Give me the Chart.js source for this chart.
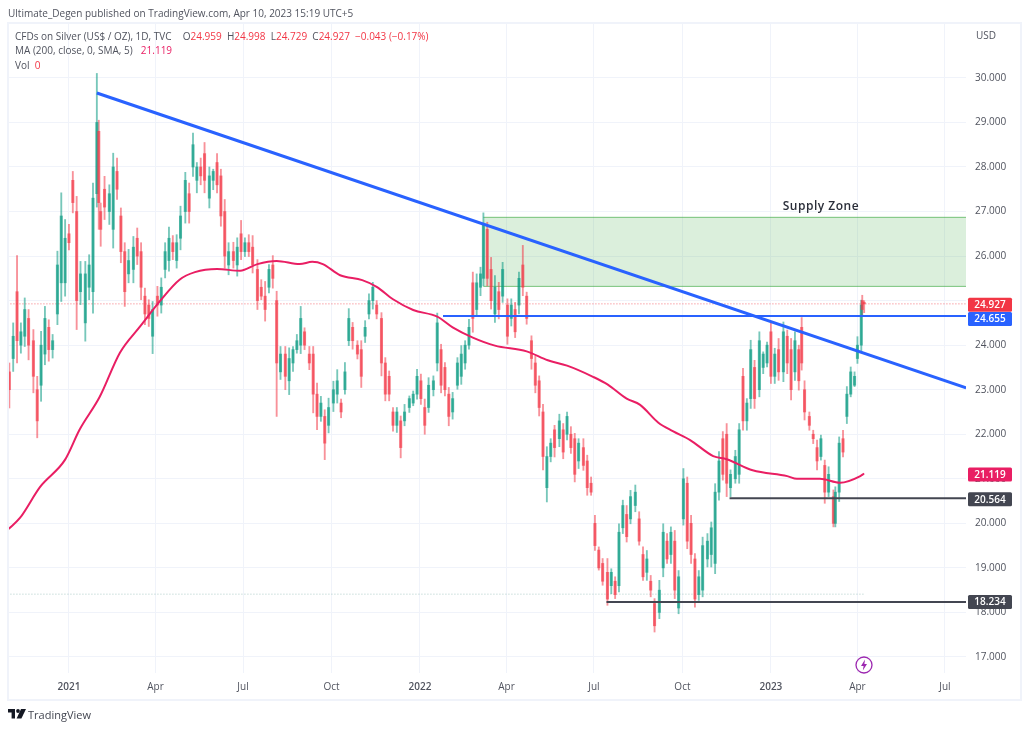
<!DOCTYPE html>
<html>
<head>
<meta charset="utf-8">
<title>CFDs on Silver</title>
<script src="https://cdn.jsdelivr.net/npm/chart.js@4"></script>
<style>
  html, body { margin: 0; padding: 0; background: #ffffff; }
  body { width: 1024px; height: 730px; position: relative; overflow: hidden; font-family: "Open Sans", Roboto, sans-serif; color: #50535e; }
  #chart { position: absolute; left: 0; top: 0; }
  #frame { position: absolute; left: 7px; top: 22px; width: 1011px; height: 675px; border: 2px solid #f0f3fa; pointer-events: none; }
  .text { position: absolute; font-size: 10px; white-space: nowrap; line-height: 14px; }
  .down { color: #f23645; }
  .ma { color: #e91e63; margin-left: 3px; }
  .open { margin-left: 6px; }
  #usd { left: 976px; top: 28px; color: #50535e; }
  #bolt { position: absolute; left: 855px; top: 656px; }
  #logo { position: absolute; left: 8px; top: 709px; }
  #brand { left: 28px; top: 708px; font-size: 11px; color: #434651; }
</style>
</head>
<body>
<canvas id="chart" width="1024" height="730"></canvas>
<div id="frame"></div>
<div class="text" style="left:8px;top:6px;">Ultimate_Degen published on TradingView.com, Apr 10, 2023 15:19 UTC+5</div>
<div class="text" style="left:15px;top:29px;">CFDs on Silver (US$ / OZ), 1D, TVC&nbsp;&nbsp;<span class="open">O</span><span class="down">24.959</span>&nbsp;&nbsp;H<span class="down">24.998</span>&nbsp;&nbsp;L<span class="down">24.729</span>&nbsp;&nbsp;C<span class="down">24.927</span>&nbsp;&nbsp;<span class="down">−0.043 (−0.17%)</span></div>
<div class="text" style="left:15px;top:43px;">MA (200, close, 0, SMA, 5)&nbsp;&nbsp;<span class="ma">21.119</span></div>
<div class="text" style="left:15px;top:58px;">Vol&nbsp;&nbsp;<span class="down">0</span></div>
<div class="text" id="usd">USD</div>
<svg id="bolt" width="18" height="18" viewBox="0 0 18 18">
  <circle cx="9" cy="9" r="8" fill="#ffffff" stroke="#9c27b0" stroke-width="1.3"></circle>
  <path d="M10 3.5 L6 10 L8.6 10 L7.8 14.5 L12 8 L9.4 8 Z" fill="#9c27b0"></path>
</svg>
<svg id="logo" width="18" height="11" viewBox="0 0 18 11">
  <path d="M0 0 H7 V9.5 H3.6 V3.4 H0 Z" fill="#131722"></path>
  <circle cx="10" cy="2" r="1.9" fill="#131722"></circle>
  <path d="M13 0 H18 L13.4 9.5 H8.6 Z" fill="#131722"></path>
</svg>
<div class="text" id="brand">TradingView</div>
<script>
// Days counted from 2021-01-01, one entry per drawn candle.
var candleDays = [
  -62, -58, -54, -50, -46, -42, -37, -33, -29, -25,
  -21, -17, -12, -8, -4, 0, 4, 8, 12, 17,
  21, 25, 29, 31, 33, 37, 42, 46, 50, 54,
  58, 62, 67, 71, 75, 79, 83, 87, 92, 96,
  100, 104, 108, 112, 116, 121, 125, 129, 133, 137,
  141, 146, 150, 154, 158, 162, 166, 171, 175, 179,
  183, 187, 191, 196, 200, 204, 208, 212, 216, 220,
  225, 229, 233, 237, 241, 245, 250, 254, 258, 262,
  266, 270, 275, 279, 283, 287, 291, 295, 300, 304,
  308, 312, 316, 320, 325, 329, 333, 337, 341, 345,
  349, 354, 358, 362, 366, 370, 374, 379, 383, 387,
  391, 395, 399, 404, 408, 412, 416, 420, 424, 428,
  431, 435, 439, 443, 447, 451, 456, 460, 464, 468,
  472, 476, 481, 485, 489, 493, 497, 501, 505, 510,
  514, 518, 522, 526, 530, 535, 539, 543, 547, 551,
  555, 560, 564, 568, 572, 576, 580, 584, 589, 593,
  597, 601, 605, 609, 614, 618, 622, 626, 630, 634,
  639, 643, 647, 651, 655, 659, 664, 668, 672, 676,
  680, 684, 688, 693, 697, 701, 705, 709, 713, 718,
  722, 726, 730, 734, 738, 743, 747, 751, 755, 759,
  762, 765, 770, 774, 778, 782, 786, 790, 795, 797,
  801, 805, 809, 813, 817, 820, 824, 825, 827
];

var highs = [
  23.60, 24.50, 26.01, 24.50, 25.06, 24.80, 24.35, 23.30, 24.31, 24.87,
  24.57, 24.24, 26.11, 27.42, 26.82, 26.71, 27.90, 27.34, 25.88, 25.88,
  26.03, 27.64, 30.10, 29.05, 27.19, 27.79, 27.60, 28.31, 28.20, 27.08,
  26.30, 26.15, 26.44, 26.63, 26.30, 25.28, 25.02, 24.98, 25.32, 25.51,
  26.30, 26.65, 26.46, 26.48, 27.12, 27.88, 27.64, 28.76, 28.10, 28.20,
  28.55, 28.00, 27.95, 28.30, 27.95, 27.27, 26.30, 26.31, 26.41, 26.80,
  26.41, 26.48, 26.46, 25.92, 25.47, 25.43, 25.81, 26.01, 25.21, 23.97,
  23.97, 23.94, 23.97, 24.24, 24.87, 24.39, 23.97, 23.97, 23.15, 22.85,
  22.55, 22.81, 23.19, 23.45, 22.79, 23.61, 24.82, 24.51, 24.10, 24.10,
  24.55, 25.15, 25.41, 25.00, 24.73, 23.72, 23.42, 22.60, 22.60, 22.41,
  22.67, 22.86, 22.97, 23.46, 23.35, 22.79, 23.27, 23.31, 24.72, 24.02,
  23.61, 23.05, 22.94, 23.72, 23.99, 24.10, 24.58, 25.64, 25.60, 25.75,
  26.97, 26.76, 25.97, 25.56, 25.41, 25.86, 25.04, 25.04, 24.96, 25.64,
  26.24, 25.19, 24.21, 23.76, 23.31, 22.67, 21.72, 21.90, 22.20, 22.45,
  22.24, 22.50, 22.17, 22.02, 21.90, 21.90, 21.53, 21.04, 20.18, 19.47,
  19.21, 19.21, 18.98, 18.80, 19.99, 20.52, 20.40, 20.74, 20.86, 20.26,
  19.47, 19.39, 18.83, 18.31, 18.72, 19.99, 19.77, 19.92, 19.84, 18.94,
  21.23, 21.04, 20.18, 19.32, 18.94, 19.69, 19.77, 20.03, 20.89, 21.61,
  22.06, 22.24, 21.20, 21.64, 22.24, 23.48, 22.80, 24.11, 23.66, 24.30,
  23.85, 24.07, 24.49, 23.93, 24.15, 24.52, 24.34, 24.15, 24.30, 24.00,
  24.62, 23.20, 22.50, 22.09, 21.87, 21.98, 21.42, 21.27, 20.75, 20.82,
  21.94, 22.09, 23.07, 23.51, 23.40, 24.19, 25.01, 25.12, 24.998
];

var lows = [
  22.59, 23.41, 23.60, 23.82, 23.97, 23.67, 22.93, 21.92, 22.74, 23.56,
  23.64, 23.71, 24.46, 24.98, 25.10, 26.14, 26.97, 24.35, 24.91, 24.09,
  25.02, 24.72, 27.10, 26.60, 26.22, 26.82, 26.71, 26.18, 27.27, 25.85,
  24.87, 25.40, 25.40, 25.81, 25.02, 24.46, 24.42, 23.81, 24.65, 24.72,
  25.51, 25.66, 25.92, 25.73, 26.14, 26.74, 26.74, 27.79, 27.42, 27.60,
  27.42, 27.08, 27.49, 27.42, 26.67, 25.73, 25.58, 25.73, 25.55, 25.92,
  25.99, 25.99, 25.62, 24.80, 25.02, 24.54, 25.17, 25.28, 22.40, 23.23,
  23.00, 22.89, 23.41, 23.82, 23.81, 23.90, 23.45, 22.48, 22.10, 22.29,
  21.43, 22.03, 22.51, 22.70, 22.37, 22.90, 23.99, 23.91, 23.69, 23.05,
  24.06, 24.59, 24.81, 24.59, 23.31, 22.75, 22.75, 22.07, 22.04, 21.47,
  22.19, 22.49, 22.64, 22.79, 22.67, 22.00, 22.49, 22.86, 23.42, 22.93,
  22.86, 22.19, 22.34, 23.01, 23.12, 23.46, 23.91, 24.29, 24.66, 25.11,
  25.33, 25.33, 24.81, 24.51, 24.59, 24.96, 24.02, 24.43, 24.17, 24.70,
  25.11, 24.47, 23.46, 22.93, 22.41, 21.20, 20.48, 21.38, 21.49, 21.72,
  21.45, 21.87, 21.57, 20.93, 21.23, 21.19, 20.63, 20.63, 19.39, 18.95,
  18.61, 18.16, 18.42, 18.31, 18.46, 19.77, 19.58, 19.99, 20.26, 19.51,
  18.72, 18.72, 18.35, 17.56, 17.86, 18.80, 19.10, 19.10, 18.31, 17.97,
  19.96, 19.43, 19.10, 18.12, 18.27, 18.35, 19.02, 19.02, 18.87, 20.52,
  20.97, 20.60, 20.60, 20.90, 20.90, 22.09, 22.09, 22.58, 22.58, 22.84,
  23.36, 23.51, 23.14, 23.14, 23.21, 23.18, 23.36, 22.77, 23.21, 22.99,
  23.44, 22.32, 22.09, 21.79, 21.20, 21.42, 20.45, 20.60, 19.92, 19.92,
  20.49, 21.49, 22.24, 22.84, 23.07, 23.59, 23.85, 24.67, 24.729
];

var opens = [
  23.4, 23.7, 25.2, 24.0, 24.2, 24.6, 24.1, 23.0, 23.1, 23.8,
  24.4, 23.9, 24.7, 25.4, 25.4, 26.5, 27.7, 27.0, 25.2, 24.5,
  25.3, 25.2, 27.4, 28.8, 27.0, 27.5, 27.0, 26.6, 27.9, 26.9,
  26.1, 25.6, 25.7, 26.4, 26.1, 25.1, 24.9, 24.2, 25.1, 24.9,
  25.7, 25.9, 26.3, 25.9, 26.4, 27.0, 27.4, 28.0, 27.7, 28.0,
  28.3, 27.3, 27.7, 28.1, 27.8, 27.0, 25.8, 26.1, 25.8, 26.5,
  26.1, 26.3, 26.2, 25.7, 25.3, 25.1, 25.3, 25.8, 25.0, 23.4,
  23.8, 23.2, 23.6, 23.9, 24.0, 24.3, 23.8, 23.8, 22.9, 22.4,
  22.4, 22.2, 22.7, 22.9, 22.7, 23.0, 24.1, 24.4, 24.0, 23.9,
  24.2, 24.7, 25.0, 24.9, 24.6, 23.6, 23.3, 22.5, 22.2, 22.3,
  22.3, 22.6, 22.7, 22.9, 23.2, 22.6, 22.6, 23.0, 23.6, 23.9,
  23.5, 22.9, 22.5, 23.1, 23.3, 23.6, 24.0, 25.4, 24.8, 25.3,
  25.5, 26.6, 25.7, 24.7, 25.2, 25.1, 24.9, 24.6, 24.8, 24.9,
  25.8, 25.1, 24.1, 23.6, 23.2, 22.5, 20.8, 21.5, 22.1, 21.9,
  22.1, 22.0, 22.0, 21.9, 21.4, 21.7, 21.4, 20.9, 20.0, 19.4,
  19.1, 18.9, 18.6, 18.7, 18.6, 19.9, 20.2, 20.1, 20.4, 20.1,
  19.3, 18.9, 18.7, 18.2, 18.0, 19.0, 19.6, 19.3, 19.6, 18.1,
  20.1, 20.9, 20.0, 19.2, 18.4, 18.5, 19.2, 19.3, 19.1, 20.7,
  21.9, 22.0, 20.8, 21.0, 21.1, 23.3, 22.3, 22.8, 23.5, 23.0,
  23.5, 23.6, 24.3, 23.3, 23.9, 23.4, 24.2, 23.9, 23.4, 23.9,
  24.4, 23.0, 22.4, 22.0, 21.7, 21.5, 21.3, 20.7, 20.6, 20.0,
  20.7, 21.9, 22.4, 22.9, 23.1, 23.7, 24.0, 25.0, 24.959
];

var closes = [
  23.0, 24.2, 24.1, 24.3, 24.8, 24.0, 23.3, 22.3, 24.0, 24.6,
  23.9, 24.1, 25.8, 26.9, 26.4, 26.3, 27.2, 25.0, 25.6, 25.6,
  25.8, 27.3, 29.0, 27.2, 26.6, 27.1, 27.4, 28.0, 27.5, 26.1,
  25.2, 25.9, 26.2, 26.0, 25.3, 24.7, 24.6, 24.8, 24.9, 25.3,
  26.1, 26.4, 26.1, 26.3, 26.9, 27.7, 27.0, 28.5, 28.0, 27.8,
  27.7, 27.8, 27.9, 27.6, 26.9, 26.0, 26.1, 25.9, 26.2, 26.1,
  26.3, 26.1, 25.8, 25.0, 25.1, 24.8, 25.7, 25.5, 23.6, 23.8,
  23.3, 23.7, 23.9, 24.1, 24.6, 24.0, 23.6, 22.9, 22.4, 22.7,
  21.8, 22.6, 23.0, 23.2, 22.5, 23.4, 24.6, 24.1, 23.8, 23.3,
  24.4, 25.0, 25.3, 24.7, 23.6, 22.9, 22.9, 22.2, 22.5, 21.7,
  22.5, 22.8, 22.9, 23.3, 22.8, 22.2, 23.1, 23.2, 24.5, 23.1,
  23.0, 22.4, 22.8, 23.6, 23.8, 24.0, 24.4, 24.6, 25.4, 25.6,
  26.7, 25.5, 25.0, 25.3, 24.8, 25.7, 24.2, 24.9, 24.3, 25.5,
  25.3, 24.6, 23.7, 23.1, 22.6, 21.5, 21.5, 21.8, 21.7, 22.3,
  21.6, 22.4, 21.7, 21.1, 21.8, 21.3, 20.8, 20.7, 19.5, 19.0,
  18.7, 18.3, 18.9, 18.4, 19.8, 20.4, 19.7, 20.6, 20.7, 19.6,
  18.8, 19.2, 18.5, 17.7, 18.5, 19.8, 19.2, 19.8, 18.5, 18.8,
  21.0, 19.6, 19.3, 18.3, 18.8, 19.5, 19.6, 19.9, 20.7, 21.4,
  21.1, 20.9, 21.1, 21.5, 22.1, 22.3, 22.7, 23.9, 22.8, 24.1,
  23.8, 24.0, 23.3, 23.8, 23.4, 24.3, 23.6, 23.0, 24.1, 23.2,
  23.6, 22.5, 22.2, 21.9, 21.4, 21.9, 20.7, 21.1, 20.0, 20.7,
  21.8, 21.6, 22.9, 23.4, 23.3, 24.0, 24.9, 24.8, 24.927
];

// 200 day moving average.
var maDays = [
  -63, -51, -30, -4, 11, 32, 53, 74, 95, 115, 131, 154, 178, 196, 216, 240,
  253, 264, 282, 305, 320, 337, 358, 383, 399, 420, 443, 476, 498,
  518, 545, 560, 580, 594, 613, 628, 646, 670, 684, 711, 747, 757, 781,
  802, 823, 827
];
var maValues = [
  19.87, 20.12, 20.82, 21.43, 22.10, 22.84, 23.83, 24.42, 25.00, 25.47, 25.64, 25.71, 25.67, 25.82, 25.89, 25.82,
  25.87, 25.82, 25.57, 25.46, 25.31, 25.03, 24.79, 24.64, 24.40, 24.17, 23.99, 23.86, 23.66,
  23.54, 23.29, 23.12, 22.80, 22.66, 22.26, 22.07, 21.87, 21.51, 21.44, 21.19, 21.06, 21.00, 21.00,
  20.91, 21.06, 21.119
];

// Hand drawn levels.
var trendDays = [29, 933];
var trendValues = [29.66, 23.04];
var resistanceDays = [389, 933];
var resistanceValues = [24.655, 24.655];
var upperSupportDays = [687, 933];
var upperSupportValues = [20.564, 20.564];
var lowerSupportDays = [559, 933];
var lowerSupportValues = [18.234, 18.234];
var zoneDays = [431, 933];
var zoneTop = [26.87, 26.87];
var zoneBottom = [25.32, 25.32];
var lastPriceDays = [-64, 933];
var lastPriceValues = [24.927, 24.927];
var prevRangeDays = [-64, 827];
var prevRangeValues = [18.41, 18.41];

// Axes.
var priceTicks = [17, 18, 19, 20, 21, 22, 23, 24, 25, 26, 27, 28, 29, 30];
var hiddenPriceLabels = [25];
var timeTicks = [0, 90, 181, 273, 365, 455, 546, 638, 730, 820, 911];
var timeLabels = ['2021', 'Apr', 'Jul', 'Oct', '2022', 'Apr', 'Jul', 'Oct', '2023', 'Apr', 'Jul'];

// Price tags on the right axis.
var tagPrices = [24.927, 24.655, 21.119, 20.564, 18.234];
var tagColors = ['#f23645', '#2962ff', '#e91e63', '#434651', '#434651'];
var tagShifts = [1, 3, 1, 1, 0];

/**
 * @description Candle color by its direction.
 *
 * @param index: number
 * @param alpha: number
 *
 * @return string
 */
function candleColor(index, alpha) {
  var rising = closes[index] >= opens[index];
  return rising ? 'rgba(8, 153, 129, ' + alpha + ')' : 'rgba(242, 54, 69, ' + alpha + ')';
}

/**
 * @description Zip two lists into points for a dataset.
 *
 * @param xs: number[]
 * @param ys: number[]
 *
 * @return {x: number, y: number}[]
 */
function toPoints(xs, ys) {
  return xs.map(function (x, i) {
    return { x: x, y: ys[i] };
  });
}

/**
 * @description Line dataset with no point markers.
 *
 * @param points: object[]
 * @param color: string
 * @param width: number
 * @param order: number
 *
 * @return object
 */
function lineSet(points, color, width, order) {
  return {
    type: 'line',
    data: points,
    borderColor: color,
    borderWidth: width,
    pointRadius: 0,
    fill: false,
    tension: 0,
    order: order,
  };
}

var wickPoints = candleDays.map(function (day, i) {
  return { x: day, y: [lows[i], highs[i]] };
});
var bodyPoints = candleDays.map(function (day, i) {
  return { x: day, y: [opens[i], closes[i]] };
});

var lastPriceSet = lineSet(toPoints(lastPriceDays, lastPriceValues), 'rgba(242, 54, 69, 0.7)', 1, 6);
lastPriceSet.borderDash = [1, 2];
var prevRangeSet = lineSet(toPoints(prevRangeDays, prevRangeValues), 'rgba(120, 170, 165, 0.6)', 1, 6);
prevRangeSet.borderDash = [1, 2];

var zoneTopSet = lineSet(toPoints(zoneDays, zoneTop), 'rgba(76, 175, 80, 0.75)', 1, 7);
zoneTopSet.fill = '+1';
zoneTopSet.backgroundColor = 'rgba(76, 175, 80, 0.2)';
var zoneBottomSet = lineSet(toPoints(zoneDays, zoneBottom), 'rgba(76, 175, 80, 0.75)', 1, 7);

var maSet = lineSet(toPoints(maDays, maValues), '#e91e63', 2, 3);
maSet.cubicInterpolationMode = 'monotone';

// Tags and the zone caption sit on top of everything.
var annotationsPlugin = {
  id: 'annotations',
  afterDraw: function (chart) {
    var ctx = chart.ctx;
    var yScale = chart.scales.y;
    var xScale = chart.scales.x;

    ctx.save();
    ctx.textBaseline = 'middle';

    tagPrices.forEach(function (price, i) {
      var y = yScale.getPixelForValue(price) + tagShifts[i];
      ctx.fillStyle = tagColors[i];
      ctx.beginPath();
      ctx.roundRect(968, y - 7, 44, 14, 1.5);
      ctx.fill();
      ctx.fillStyle = '#ffffff';
      ctx.font = '600 10px "Open Sans"';
      ctx.textAlign = 'center';
      ctx.fillText(price.toFixed(3), 990, y + 0.5);
    });

    ctx.fillStyle = '#2a2e39';
    ctx.font = '600 12px "Open Sans"';
    ctx.textAlign = 'center';
    ctx.letterSpacing = '0.5px';
    ctx.fillText('Supply Zone', xScale.getPixelForValue(782), yScale.getPixelForValue(27.1));
    ctx.restore();
  },
};

new Chart(document.getElementById('chart'), {
  type: 'bar',
  data: {
    datasets: [
      zoneTopSet,
      zoneBottomSet,
      lastPriceSet,
      prevRangeSet,
      {
        data: wickPoints,
        barThickness: 1.2,
        backgroundColor: function (ctx) { return candleColor(ctx.dataIndex, 0.55); },
        order: 5,
      },
      {
        data: bodyPoints,
        barThickness: 2.4,
        backgroundColor: function (ctx) { return candleColor(ctx.dataIndex, 0.65); },
        order: 4,
      },
      maSet,
      lineSet(toPoints(trendDays, trendValues), '#2962ff', 3, 2),
      lineSet(toPoints(resistanceDays, resistanceValues), '#2962ff', 1.8, 2),
      lineSet(toPoints(upperSupportDays, upperSupportValues), '#434651', 2, 2),
      lineSet(toPoints(lowerSupportDays, lowerSupportValues), '#434651', 2, 2),
    ],
  },
  plugins: [annotationsPlugin],
  options: {
    responsive: false,
    animation: false,
    layout: { padding: { left: 8, right: 5, top: 24, bottom: 32 } },
    plugins: { legend: { display: false }, tooltip: { enabled: false } },
    datasets: { bar: { grouped: false, borderWidth: 0 } },
    scales: {
      x: {
        type: 'linear',
        offset: false,
        min: -63.4,
        max: 932.9,
        afterBuildTicks: function (scale) {
          scale.ticks = timeTicks.map(function (v) { return { value: v }; });
        },
        afterFit: function (scale) { scale.height = 25; },
        grid: { color: '#f0f3fa', drawTicks: false, offset: false },
        border: { display: false },
        ticks: {
          autoSkip: false,
          maxRotation: 0,
          padding: 8,
          color: '#50535e',
          font: function (ctx) {
            var isYear = timeLabels[ctx.index] && timeLabels[ctx.index].length === 4;
            return { family: '"Open Sans"', size: 10, weight: isYear ? '600' : '400' };
          },
          callback: function (value, index) { return timeLabels[index]; },
        },
      },
      y: {
        position: 'right',
        min: 16.64,
        max: 31.21,
        afterBuildTicks: function (scale) {
          scale.ticks = priceTicks.map(function (v) { return { value: v }; });
        },
        afterFit: function (scale) { scale.width = 53; },
        grid: { color: '#f0f3fa', drawTicks: false },
        border: { display: false },
        ticks: {
          padding: 9,
          color: '#50535e',
          font: { family: '"Open Sans"', size: 10 },
          callback: function (value) {
            return hiddenPriceLabels.indexOf(value) >= 0 ? '' : value.toFixed(3);
          },
        },
      },
    },
  },
});
</script>
</body>
</html>
